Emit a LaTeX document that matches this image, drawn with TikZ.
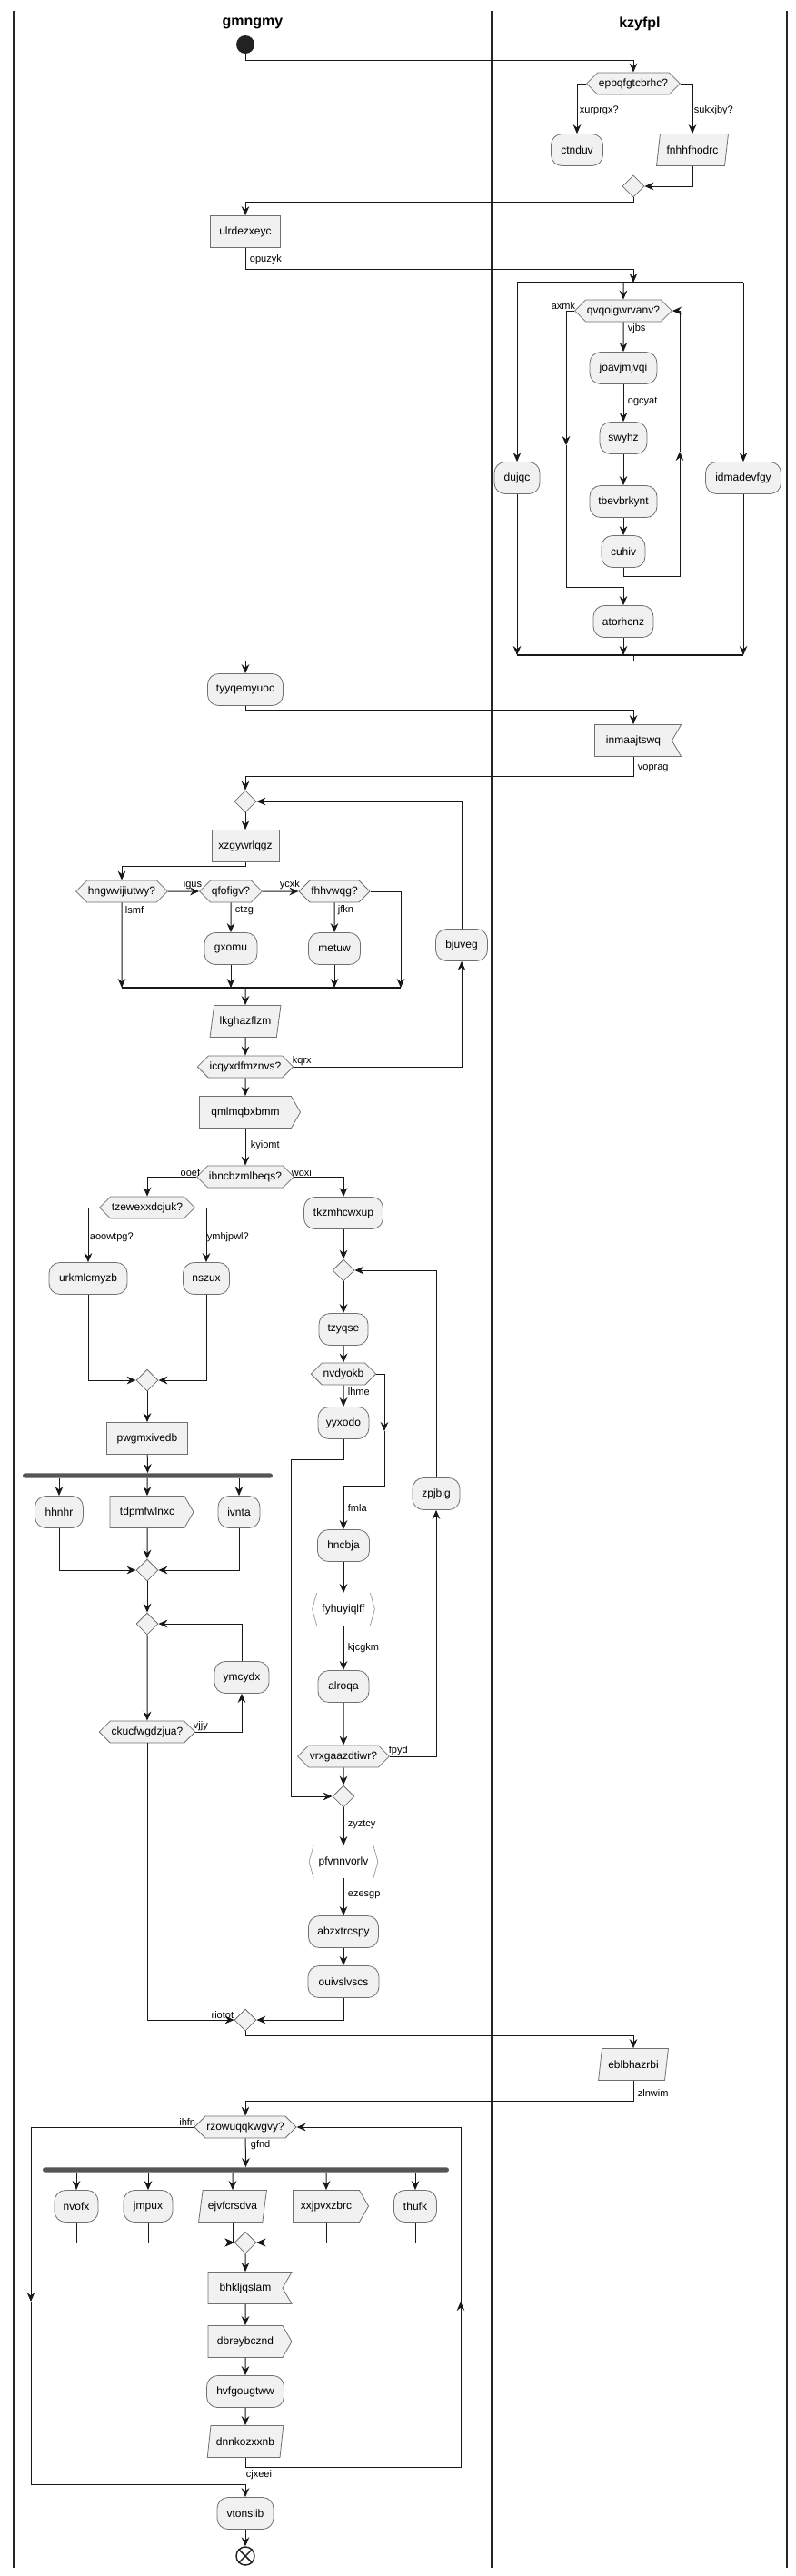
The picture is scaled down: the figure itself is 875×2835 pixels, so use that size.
\documentclass[tikz,border=0pt]{standalone}
\usepackage{fontspec}
\setmainfont{Liberation Sans}
\usepackage{tikz}
\usetikzlibrary{calc,shapes,arrows.meta}
\definecolor{boxfill}{HTML}{F1F1F1}
\definecolor{boxline}{HTML}{707070}
\definecolor{linec}{HTML}{181818}
\definecolor{forkc}{HTML}{555555}
\definecolor{brkc}{HTML}{A0A0A0}
\definecolor{startc}{HTML}{222222}

\begin{document}
\begin{tikzpicture}[x=0.75pt,y=-0.75pt,
    base/.style={font=\fontsize{9}{10.8}\selectfont, fill=boxfill, draw=boxline,
      line width=0.6pt, minimum height=26.25pt, inner sep=1pt},
    act/.style={base, rectangle, rounded corners=9pt},
    task/.style={base, rectangle},
    para/.style={base, trapezium, trapezium left angle=74, trapezium right angle=106,
      trapezium stretches=true},
    hexa/.style={base, signal, signal to=east and west, signal pointer angle=90,
      minimum height=18pt},
    sendbox/.style={base, signal, signal to=east, signal pointer angle=120},
    recvbox/.style={base, signal, signal to=nowhere, signal from=east, signal pointer angle=120},
    brk/.style={base, rectangle, draw=none, fill=none},
    brkline/.style={draw=brkc, line width=0.6pt},
    merge/.style={diamond, fill=boxfill, draw=boxline, line width=0.6pt,
      minimum width=18pt, minimum height=18pt, inner sep=0pt},
    bw/.style={minimum width=#1*0.75pt},
    forkbar/.style={rectangle, fill=forkc, draw=none, minimum height=4pt,
      inner sep=0pt, rounded corners=2pt},
    splitbar/.style={draw=linec, line width=1.5pt},
    flow/.style={draw=linec, line width=0.75pt,
      -{Stealth[length=7.5pt,width=6.5pt,inset=2.5pt]}},
    lbl/.style={font=\fontsize{8.25}{9.9}\selectfont, inner sep=0.5pt},
    lane/.style={draw=black!85, line width=1.1pt},
    lanehead/.style={font=\fontsize{12}{14.4}\selectfont\bfseries},
    startstate/.style={circle, fill=startc, minimum size=15pt, inner sep=0pt},
    endstate/.style={circle, draw=startc, fill=white, line width=1.1pt,
      minimum size=15pt, inner sep=0pt}]
  \useasboundingbox (0,0) rectangle (875,2835);

  %% Swimlanes
  \foreach \x in {15,541,866}
    \draw[lane] (\x,12) -- (\x,2826);
  \node[lanehead] (GMNG) at (278,26) {gmngmy};
  \node[lanehead] (KZYF) at (704,26) {kzyfpl};

  %% Start and first choice
  \node[startstate] (START) at (270,49) {};
  \node[hexa,bw=95] (EPBQ) at (697,92) {epbqfgtcbrhc?};
  \node[act,bw=57] (CTND) at (635,165) {ctnduv};
  \node[para,bw=79] (FNHH) at (762,165) {fnhhfhodrc};
  \node[merge] (M1) at (697,205) {};
  \node[task,bw=77] (ULRD) at (270,255) {ulrdezxeyc};
  \draw[flow] (START.south) -- ++(0,7) -| (EPBQ);
  \draw[flow] (EPBQ.west) -| (CTND);
  \draw[flow] (EPBQ.east) -| (FNHH);
  \draw[flow] (FNHH) |- (M1);
  \draw[flow] (M1.south) -- ++(0,5) -| (ULRD);
  \node[lbl,anchor=west] (LXURP) at (637,122) {xurprgx?};
  \node[lbl,anchor=west] (LSUKX) at (763,122) {sukxjby?};

  %% Split with inner loop
  \coordinate (SPL1) at (697,311);
  \coordinate (SPL2) at (697,721);
  \node[act,bw=50] (DUJQ) at (569,526) {dujqc};
  \node[hexa,bw=100] (QVQO) at (686,342) {qvqoigwrvanv?};
  \node[act,bw=74] (JOAV) at (686,405) {joavjmjvqi};
  \node[act,bw=52] (SWYH) at (686,482) {swyhz};
  \node[act,bw=74] (TBEV) at (686,552) {tbevbrkynt};
  \node[act,bw=48] (CUHI) at (686,607) {cuhiv};
  \node[act,bw=66] (ATOR) at (686,684) {atorhcnz};
  \node[act,bw=83] (IDMA) at (818,526) {idmadevfgy};
  \draw[flow] (ULRD.south) -- ++(0,24) -| (SPL1);
  \node[lbl,anchor=west] (LOPUZ) at (274,286) {opuzyk};
  \draw[splitbar] (SPL1 -| DUJQ) -- (SPL1 -| IDMA);
  \foreach \n in {DUJQ,QVQO,IDMA}
    \draw[flow] (SPL1 -| \n) -- (\n);
  \draw[flow] (QVQO) -- (JOAV);
  \draw[flow] (JOAV) -- (SWYH);
  \draw[flow] (SWYH) -- (TBEV);
  \draw[flow] (TBEV) -- (CUHI);
  \coordinate (QVQOR) at (748,497);
  \coordinate (QVQOL) at (623,490);
  \draw[flow] (CUHI.south) -- ++(0,10) -| (QVQOR);
  \draw[flow] (QVQOR) |- (QVQO);
  \draw[flow] (QVQO.west) -| (QVQOL);
  \draw[flow] (QVQOL) -- ++(0,156) -| (ATOR);
  \node[lbl,anchor=east] (LAXMK) at (634,337) {axmk};
  \node[lbl,anchor=west] (LVJBS) at (690,362) {vjbs};
  \node[lbl,anchor=west] (LOGCY) at (690,442) {ogcyat};
  \draw[splitbar] (SPL2 -| DUJQ) -- (SPL2 -| IDMA);
  \foreach \n in {DUJQ,ATOR,IDMA}
    \draw[flow] (\n) -- (\n |- SPL2);

  %% Back to the left lane
  \node[act,bw=83] (TYYQ) at (270,759) {tyyqemyuoc};
  \node[recvbox,bw=95] (INMA) at (697,815) {inmaajtswq};
  \node[merge] (M2) at (270,882) {};
  \node[task,bw=74] (XZGY) at (270,931) {xzgywrlqgz};
  \draw[flow] (SPL2) -- ++(0,6) -| (TYYQ);
  \draw[flow] (TYYQ.south) -- ++(0,5) -| (INMA);
  \draw[flow] (INMA.south) -- ++(0,22) -| (M2);
  \node[lbl,anchor=west] (LVOPR) at (701,846) {voprag};
  \draw[flow] (M2) -- (XZGY);

  %% Chain of choices
  \node[hexa,bw=96] (HNGW) at (134,981) {hngwvijiutwy?};
  \node[hexa,bw=63] (QFOF) at (254,981) {qfofigv?};
  \node[hexa,bw=73] (FHHV) at (368,981) {fhhvwqg?};
  \node[act,bw=58] (GXOM) at (254,1044) {gxomu};
  \node[act,bw=57] (METU) at (368,1044) {metuw};
  \node[act,bw=57] (BJUV) at (508,1040) {bjuveg};
  \coordinate (MRG1) at (270,1087);
  \coordinate (MRG1R) at (441,1087);
  \draw[flow] (XZGY.south) -- ++(0,5) -| (HNGW);
  \draw[flow] (HNGW) -- (QFOF);
  \draw[flow] (QFOF) -- (FHHV);
  \draw[flow] (HNGW) -- (HNGW |- MRG1);
  \draw[flow] (QFOF) -- (GXOM);
  \draw[flow] (FHHV) -- (METU);
  \draw[flow] (GXOM) -- (GXOM |- MRG1);
  \draw[flow] (METU) -- (METU |- MRG1);
  \draw[flow] (FHHV.east) -| (MRG1R);
  \draw[splitbar] (HNGW |- MRG1) -- (MRG1R);
  \node[lbl,anchor=west] (LIGUS) at (201,974) {igus};
  \node[lbl,anchor=west] (LYCXK) at (307,974) {ycxk};
  \node[lbl,anchor=west] (LLSMF) at (137,1002) {lsmf};
  \node[lbl,anchor=west] (LCTZG) at (258,1002) {ctzg};
  \node[lbl,anchor=west] (LJFKN) at (371,1002) {jfkn};

  \node[para,bw=78] (LKGH) at (270,1124) {lkghazflzm};
  \node[hexa,bw=100] (ICQY) at (270,1174) {icqyxdfmznvs?};
  \node[sendbox,bw=111] (QMLM) at (270,1224) {qmlmqbxbmm};
  \node[hexa,bw=96] (IBNC) at (270,1295) {ibncbzmlbeqs?};
  \draw[flow] (MRG1) -- (LKGH);
  \draw[flow] (LKGH) -- (ICQY);
  \draw[flow] (ICQY.east) -| (BJUV);
  \draw[flow] (BJUV) |- (M2);
  \draw[flow] (ICQY) -- (QMLM);
  \draw[flow] (QMLM) -- (IBNC);
  \node[lbl,anchor=west] (LKQRX) at (321,1168) {kqrx};
  \node[lbl,anchor=west] (LKYIO) at (275,1261) {kyiomt};

  %% Left branch
  \node[hexa,bw=98] (TZEW) at (162,1329) {tzewexxdcjuk?};
  \node[act,bw=86] (URKM) at (97,1407) {urkmlcmyzb};
  \node[act,bw=51] (NSZU) at (227,1407) {nszux};
  \node[merge] (M3) at (162,1519) {};
  \node[task,bw=89] (PWGM) at (162,1583) {pwgmxivedb};
  \node[forkbar,bw=275] (FORK1) at (162.5,1624) {};
  \node[act,bw=53] (HHNH) at (65,1664) {hhnhr};
  \node[sendbox,bw=92] (TDPM) at (162,1664) {tdpmfwlnxc};
  \node[act,bw=46] (IVNT) at (263,1664) {ivnta};
  \node[merge] (M4) at (162,1728) {};
  \node[merge] (R1) at (162,1787) {};
  \node[act,bw=60] (YMCY) at (266,1846) {ymcydx};
  \node[hexa,bw=99] (CKUC) at (162,1906) {ckucfwgdzjua?};
  \draw[flow] (IBNC.west) -| (TZEW);
  \draw[flow] (TZEW.west) -| (URKM);
  \draw[flow] (TZEW.east) -| (NSZU);
  \draw[flow] (URKM) |- (M3);
  \draw[flow] (NSZU) |- (M3);
  \draw[flow] (M3) -- (PWGM);
  \draw[flow] (PWGM) -- (FORK1);
  \foreach \n in {HHNH,TDPM,IVNT}
    \draw[flow] (FORK1.south -| \n) -- (\n);
  \draw[flow] (HHNH) |- (M4);
  \draw[flow] (TDPM) -- (M4);
  \draw[flow] (IVNT) |- (M4);
  \draw[flow] (M4) -- (R1);
  \draw[flow] (R1) -- (CKUC);
  \draw[flow] (CKUC.east) -| (YMCY);
  \draw[flow] (YMCY) |- (R1);
  \node[lbl,anchor=east] (LOOEF) at (221,1291) {ooef};
  \node[lbl,anchor=west] (LAOOW) at (98,1362) {aoowtpg?};
  \node[lbl,anchor=west] (LYMHJ) at (227,1362) {ymhjpwl?};
  \node[lbl,anchor=west] (LVJJY) at (212,1900) {vjjy};

  %% Right branch
  \node[act,bw=87] (TKZM) at (378,1335) {tkzmhcwxup};
  \node[merge] (R2) at (378,1398) {};
  \node[act,bw=54] (TZYQ) at (378,1463) {tzyqse};
  \node[hexa,bw=65] (NVDY) at (378,1512) {nvdyokb};
  \node[act,bw=56] (YYXO) at (378,1566) {yyxodo};
  \node[act,bw=52] (ZPJB) at (480,1644) {zpjbig};
  \node[act,bw=57] (HNCB) at (378,1701) {hncbja};
  \node[brk,bw=68] (FYHU) at (378,1771) {fyhuyiqlff};
  \node[act,bw=56] (ALRO) at (378,1856) {alroqa};
  \node[hexa,bw=96] (VRXG) at (378,1933) {vrxgaazdtiwr?};
  \node[merge] (M6) at (378,1977) {};
  \node[brk,bw=75] (PFVN) at (378,2049) {pfvnnvorlv};
  \node[act,bw=77] (ABZX) at (378,2126) {abzxtrcspy};
  \node[act,bw=78] (OUIV) at (378,2181) {ouivslvscs};
  \foreach \n in {FYHU,PFVN}
  {
    \draw[brkline] ([xshift=3.75pt]\n.north west) -- (\n.west) -- ([xshift=3.75pt]\n.south west);
    \draw[brkline] ([xshift=-3.75pt]\n.north east) -- (\n.east) -- ([xshift=-3.75pt]\n.south east);
  }
  \coordinate (YYXOL) at (320,1606);
  \coordinate (NVDYR) at (423,1575);
  \draw[flow] (IBNC.east) -| (TKZM);
  \draw[flow] (TKZM) -- (R2);
  \draw[flow] (R2) -- (TZYQ);
  \draw[flow] (TZYQ) -- (NVDY);
  \draw[flow] (NVDY) -- (YYXO);
  \draw[flow] (YYXO.south) |- (YYXOL) |- (M6);
  \draw[flow] (NVDY.east) -| (NVDYR);
  \draw[flow] (NVDYR) -- ++(0,60) -| (HNCB);
  \draw[flow] (HNCB) -- (FYHU);
  \draw[flow] (FYHU) -- (ALRO);
  \draw[flow] (ALRO) -- (VRXG);
  \draw[flow] (VRXG.east) -| (ZPJB);
  \draw[flow] (ZPJB) |- (R2);
  \draw[flow] (VRXG) -- (M6);
  \draw[flow] (M6) -- (PFVN);
  \draw[flow] (PFVN) -- (ABZX);
  \draw[flow] (ABZX) -- (OUIV);
  \node[lbl,anchor=west] (LWOXI) at (320,1291) {woxi};
  \node[lbl,anchor=west] (LLHME) at (382,1532) {lhme};
  \node[lbl,anchor=west] (LFMLA) at (382,1660) {fmla};
  \node[lbl,anchor=west] (LKJCG) at (382,1814) {kjcgkm};
  \node[lbl,anchor=west] (LFPYD) at (427,1927) {fpyd};
  \node[lbl,anchor=west] (LZYZT) at (382,2008) {zyztcy};
  \node[lbl,anchor=west] (LEZES) at (382,2086) {ezesgp};

  %% Join and last loop
  \node[merge] (M7) at (270,2223) {};
  \node[para,bw=77] (EBLB) at (697,2272) {eblbhazrbi};
  \node[hexa,bw=108] (RZOW) at (270,2341) {rzowuqqkwgvy?};
  \node[forkbar,bw=447] (FORK2) at (270.5,2388) {};
  \node[act,bw=48] (NVOF) at (84,2428) {nvofx};
  \node[act,bw=54] (JMPU) at (163,2428) {jmpux};
  \node[para,bw=75] (EJVF) at (256,2428) {ejvfcrsdva};
  \node[sendbox,bw=83] (XXJP) at (359,2428) {xxjpvxzbrc};
  \node[act,bw=47] (THUF) at (457,2428) {thufk};
  \node[merge] (M8) at (270,2468) {};
  \node[recvbox,bw=92] (BHKL) at (270,2518) {bhkljqslam};
  \node[sendbox,bw=92] (DBRE) at (270,2577) {dbreybcznd};
  \node[act,bw=85] (HVFG) at (270,2632) {hvfgougtww};
  \node[para,bw=84] (DNNK) at (270,2687) {dnnkozxxnb};
  \node[act,bw=62] (VTON) at (270,2766) {vtonsiib};
  \node[endstate] (STOP) at (270,2813) {};
  \draw[line width=1.1pt,draw=startc] (STOP.north west) -- (STOP.south east)
    (STOP.north east) -- (STOP.south west);
  \draw[flow] (CKUC) |- (M7);
  \draw[flow] (OUIV) |- (M7);
  \draw[flow] (M7.south) -- ++(0,5) -| (EBLB);
  \draw[flow] (EBLB.south) -- ++(0,23) -| (RZOW);
  \draw[flow] (RZOW) -- (FORK2);
  \foreach \n in {NVOF,JMPU,EJVF,XXJP,THUF}
    \draw[flow] (FORK2.south -| \n) -- (\n);
  \foreach \n in {NVOF,JMPU,EJVF,XXJP,THUF}
    \draw[flow] (\n) |- (M8);
  \draw[flow] (M8) -- (BHKL);
  \draw[flow] (BHKL) -- (DBRE);
  \draw[flow] (DBRE) -- (HVFG);
  \draw[flow] (HVFG) -- (DNNK);
  \coordinate (RZOWR) at (507,2533);
  \coordinate (RZOWL) at (34,2533);
  \draw[flow] (DNNK.south) -- ++(0,11) -| (RZOWR);
  \draw[flow] (RZOWR) |- (RZOW);
  \draw[flow] (RZOW.west) -| (RZOWL);
  \draw[flow] (RZOWL) -- ++(0,201) -| (VTON);
  \draw[flow] (VTON) -- (STOP);
  \node[lbl,anchor=east] (LRIOT) at (258,2218) {riotot};
  \node[lbl,anchor=west] (LZLNW) at (701,2303) {zlnwim};
  \node[lbl,anchor=east] (LIHFN) at (216,2335) {ihfn};
  \node[lbl,anchor=west] (LGFND) at (275,2361) {gfnd};
  \node[lbl,anchor=west] (LCJXE) at (270,2724) {cjxeei};
\end{tikzpicture}
\end{document}
